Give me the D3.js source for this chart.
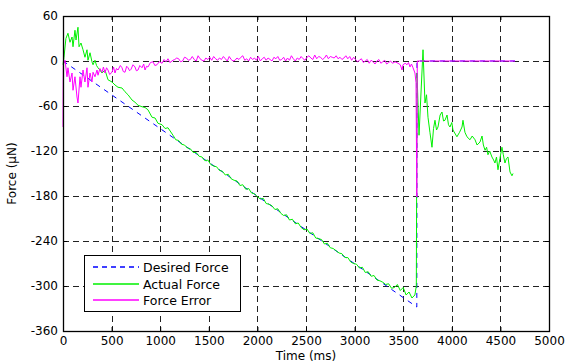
<!DOCTYPE html>
<html>
<head>
<meta charset="utf-8">
<script src="https://cdn.jsdelivr.net/npm/d3@7"></script>
<style>
  body { margin: 0; background: #fff; }
  text { font-family: "DejaVu Sans", sans-serif; fill: #000; }
</style>
</head>
<body>
<div id="chart"></div>
<script>

// tick values
var xTicks = [0, 500, 1000, 1500, 2000, 2500, 3000, 3500, 4000, 4500, 5000];
var yTicks = [-360, -300, -240, -180, -120, -60, 0, 60];

// desired force (uN) - ramp then release
var desiredT = [0, 3640, 3642, 4650];
var desiredV = [0, -328, 0, 0];

// actual force (uN)
var actualT = [0, 10, 30, 51, 72, 93, 103, 123, 134, 154, 165, 185, 206, 226, 247, 257, 278, 298, 309, 329, 345, 360, 380, 401, 432, 463, 504, 535, 566, 607, 638, 669, 710, 741, 772, 813, 844, 874, 916, 947, 977, 1019, 1050, 1080, 1132,
  1160, 1190, 1220, 1250, 1280, 1310, 1340, 1370, 1400, 1430, 1460, 1490, 1520, 1550, 1580, 1610, 1640, 1670, 1700, 1730, 1760, 1790, 1820, 1850, 1880, 1910, 1940, 1970, 2000, 2030, 2060, 2090, 2120, 2150, 2180, 2210, 2240, 2270, 2300, 2330, 2360, 2390, 2420, 2450, 2480, 2510, 2540, 2570, 2600, 2630, 2660, 2690, 2720, 2750, 2780, 2810, 2840, 2870, 2900, 2930, 2960, 2990, 3020, 3050, 3080, 3110, 3140, 3170, 3200, 3230, 3260, 3290, 3320, 3350, 3380, 3410, 3440, 3470, 3500, 3530, 3560, 3590, 3620, 3635,
  3642, 3663, 3684, 3704, 3724, 3740, 3755, 3775, 3796, 3812, 3827, 3843, 3858, 3880, 3899, 3915, 3930, 3951, 3966, 3981, 4000, 4012, 4030, 4053, 4080, 4105, 4115, 4135, 4156, 4187, 4210, 4239, 4260, 4290, 4311, 4325, 4342, 4358, 4372, 4390, 4413, 4430, 4444, 4460, 4475, 4495, 4516, 4530, 4547, 4562, 4578, 4599, 4619, 4630];
var actualV = [-5, 5, 30, 37, 25, 32, 19, 41, 28, 45, 19, 24, 15, 5, 15, 1, 11, -1, -5, 1, -6, -9, -12, -16, -12, -25, -28, -32, -35, -36, -41, -45, -52, -55, -59, -61, -62, -65, -75, -76, -83, -85, -90, -89, -99,
  -105, -106, -111, -112, -116, -117, -122, -122, -127, -128, -133, -132, -138, -140, -141, -146, -147, -152, -151, -157, -159, -160, -166, -165, -171, -170, -176, -177, -181, -184, -183, -190, -191, -193, -198, -197, -203, -206, -205, -212, -211, -217, -216, -222, -225, -224, -230, -229, -236, -237, -238, -244, -243, -249, -250, -253, -256, -257, -262, -262, -268, -270, -271, -276, -275, -282, -281, -287, -286, -292, -293, -295, -298, -297, -303, -302, -298, -306, -302, -312, -308, -316, -312, -300,
  -16, -99, -40, 15, -56, -45, -75, -95, -115, -90, -79, -92, -88, -72, -68, -80, -79, -72, -85, -88, -82, -92, -96, -101, -95, -88, -79, -95, -101, -105, -100, -105, -112, -108, -100, -112, -119, -115, -125, -120, -128, -132, -136, -128, -145, -130, -115, -125, -136, -130, -128, -148, -153, -150];

// force error (uN)
var errorT = [0, 3, 21, 41, 51, 72, 93, 103, 123, 144, 154, 175, 185, 206, 226, 247, 257, 278, 298, 309, 329, 350, 360, 380, 401, 416, 432, 448, 463, 480, 504, 520, 535, 550, 566, 590, 607, 620, 638, 655, 669, 685, 700, 720, 741, 755, 772, 790, 813, 830, 844, 860, 874, 900, 926, 945, 967, 990, 1019, 1040, 1060, 1080, 1100, 1132,
  1150, 1170, 1190, 1210, 1230, 1250, 1270, 1290, 1310, 1330, 1350, 1370, 1390, 1410, 1430, 1450, 1470, 1490, 1510, 1530, 1550, 1570, 1590, 1610, 1630, 1650, 1670, 1690, 1710, 1730, 1750, 1770, 1790, 1810, 1830, 1850, 1870, 1890, 1910, 1930, 1950, 1970, 1990, 2010, 2030, 2050, 2070, 2090, 2110, 2130, 2150, 2170, 2190, 2210, 2230, 2250, 2270, 2290, 2310, 2330, 2350, 2370, 2390, 2410, 2430, 2450, 2470, 2490, 2510, 2530, 2550, 2570, 2590, 2610, 2630, 2650, 2670, 2690, 2710, 2730, 2750, 2770, 2790, 2810, 2830, 2850, 2870, 2890, 2910, 2930, 2950, 2970, 2990, 3010, 3030, 3050, 3070, 3090, 3110, 3130, 3150, 3170, 3190, 3210, 3230, 3250, 3270, 3290, 3310, 3330, 3350, 3370, 3390,
  3416, 3447, 3470, 3488, 3498, 3520, 3539, 3555, 3570, 3585, 3601, 3621, 3632, 3640, 3645, 4650];
var errorV = [-88, -5, 1, -21, -9, -28, -16, -39, -21, -48, -56, -21, -35, -12, -28, -9, -35, -16, -28, -15, -21, -12, -19, -10, -15, -8, -16, -9, -12, -18, -15, -8, -16, -10, -12, -6, -9, -14, -15, -7, -9, -13, -11, -5, -8, -13, -12, -6, -9, -4, -12, -7, -8, -2, -1, -6, -5, -1, -3, 2, -1, 3, -2, 1,
  2, 4, 3, -1, 0, 5, 4, 1, 2, 6, 2, 0, 7, 3, 1, 0, 4, 2, 5, 1, 6, 3, 1, 4, 2, 6, 3, 0, 6, 2, 0, 1, 4, 2, 5, 7, 1, 3, 0, 5, 2, 4, 1, 6, 0, 3, 5, 1, 4, 2, 0, 5, 3, 6, 1, 2, 5, 0, 4, 1, 7, 3, 0, 4, 2, 6, 3, 1, 5, 7, 4, 2, 8, 3, 6, 5, 2, 4, 8, 3, 6, 5, 4, 7, 3, 5, 2, 4, 7, 3, 6, 1, 5, 2, -1, 1, 3, -2, 0, 2, -3, 1, -1, -4, 0, 2, -3, -1, 1, -4, -2, 0, -3,
  -1, -3, -5, -12, -5, -3, -5, -2, -8, -4, -9, -16, -29, -181, 0, 0];

var W = 565, H = 362;
var margin = { top: 16, right: 16, bottom: 31, left: 63 };
var width = 549 - margin.left;
var height = 331 - margin.top;

var svg = d3.select("#chart")
  .append("svg")
  .attr("width", W)
  .attr("height", H)
  .append("g")
  .attr("transform", "translate(" + margin.left + "," + margin.top + ")");

var x = d3.scaleLinear().domain([0, 5000]).range([0, width]);
var y = d3.scaleLinear().domain([-360, 60]).range([height, 0]);

// grid
svg.append("g")
  .selectAll("line")
  .data(xTicks.slice(1, -1))
  .enter()
  .append("line")
  .attr("x1", function (d) { return Math.round(x(d)) + 0.5; })
  .attr("x2", function (d) { return Math.round(x(d)) + 0.5; })
  .attr("y1", 0)
  .attr("y2", height)
  .attr("stroke", "#222")
  .attr("stroke-dasharray", "6,4");

svg.append("g")
  .selectAll("line")
  .data(yTicks.slice(1, -1))
  .enter()
  .append("line")
  .attr("x1", 0)
  .attr("x2", width)
  .attr("y1", function (d) { return Math.round(y(d)) + 0.5; })
  .attr("y2", function (d) { return Math.round(y(d)) + 0.5; })
  .attr("stroke", "#222")
  .attr("stroke-dasharray", "6,4");

// axes, ticks inside
var xAxis = svg.append("g")
  .attr("transform", "translate(0," + height + ")")
  .call(d3.axisBottom(x).tickValues(xTicks).tickSizeInner(-4).tickSizeOuter(0).tickPadding(5).tickFormat(d3.format("d")));
var yAxis = svg.append("g")
  .call(d3.axisLeft(y).tickValues(yTicks).tickSizeInner(-4).tickSizeOuter(0).tickPadding(5).tickFormat(d3.format("d")));
svg.append("g")
  .call(d3.axisTop(x).tickValues(xTicks).tickSizeInner(-4).tickSizeOuter(0).tickFormat(""));
svg.append("g")
  .attr("transform", "translate(" + width + ",0)")
  .call(d3.axisRight(y).tickValues(yTicks).tickSizeInner(-4).tickSizeOuter(0).tickFormat(""));

svg.selectAll(".domain").remove();
svg.selectAll(".tick line").attr("stroke", "#000");
svg.selectAll(".tick text").style("font-size", "12px").style("font-family", "DejaVu Sans, sans-serif");
yAxis.selectAll(".tick text").text(function (d) { return d < 0 ? "-" + Math.abs(d) : d; });

// lines
var line = d3.line()
  .x(function (d) { return x(d[0]); })
  .y(function (d) { return y(d[1]); });

svg.append("path")
  .datum(d3.zip(desiredT, desiredV))
  .attr("fill", "none")
  .attr("stroke", "#0000ff")
  .attr("stroke-width", 1)
  .attr("stroke-dasharray", "5,5")
  .attr("d", line);

svg.append("path")
  .datum(d3.zip(actualT, actualV))
  .attr("fill", "none")
  .attr("stroke", "#00f000")
  .attr("stroke-width", 1)
  .attr("d", line);

svg.append("path")
  .datum(d3.zip(errorT, errorV))
  .attr("fill", "none")
  .attr("stroke", "#ff00ff")
  .attr("stroke-width", 1)
  .attr("d", line);

// frame
svg.append("rect")
  .attr("x", 0.5)
  .attr("y", 0.5)
  .attr("width", width)
  .attr("height", height)
  .attr("fill", "none")
  .attr("stroke", "#000")
  .attr("stroke-width", 1.3);

// axis labels
svg.append("text")
  .attr("x", width / 2)
  .attr("y", height + 29)
  .attr("text-anchor", "middle")
  .style("font-size", "12px")
  .text("Time (ms)");

svg.append("text")
  .attr("transform", "translate(-47," + (height / 2) + ") rotate(-90)")
  .attr("text-anchor", "middle")
  .style("font-size", "12px")
  .text("Force (\u03bcN)");

// legend
var legendNames = ["Desired Force", "Actual Force", "Force Error"];
var legendColors = ["#0000ff", "#00f000", "#ff00ff"];
var legendDash = ["5,4", "none", "none"];

var legend = svg.append("g").attr("transform", "translate(21,239)");
legend.append("rect")
  .attr("x", 0.5)
  .attr("y", 0.5)
  .attr("width", 156)
  .attr("height", 56)
  .attr("fill", "#fff")
  .attr("stroke", "#000");

var rows = legend.selectAll(".row")
  .data(legendNames)
  .enter()
  .append("g")
  .attr("transform", function (d, i) { return "translate(0," + [12, 29, 45][i] + ")"; });

rows.append("line")
  .attr("x1", 9).attr("x2", 55)
  .attr("y1", 0).attr("y2", 0)
  .attr("stroke-width", 1.6)
  .attr("stroke", function (d, i) { return legendColors[i]; })
  .attr("stroke-dasharray", function (d, i) { return legendDash[i]; });

rows.append("text")
  .attr("x", 59)
  .attr("dy", "0.36em")
  .style("font-size", "12.5px")
  .text(function (d) { return d; });

</script>
</body>
</html>
